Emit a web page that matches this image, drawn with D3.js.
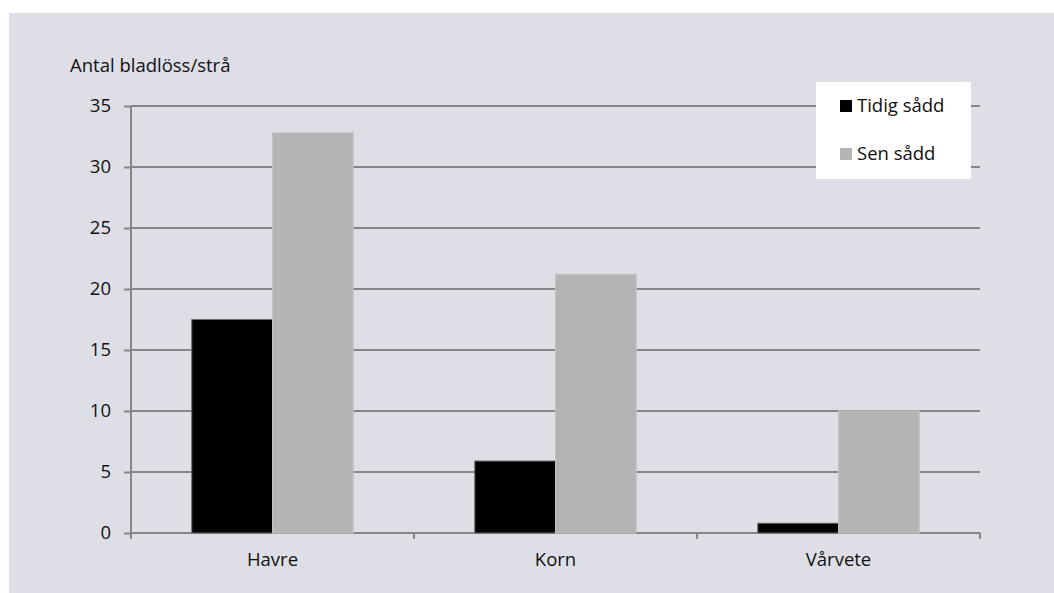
<!DOCTYPE html>
<html lang="sv">
<head>
<meta charset="UTF-8">
<title>Antal bladlöss/strå</title>
<style>
  body { margin: 0; background: #fff; }
  text { font-family: "Open Sans", "Noto Sans", sans-serif; fill: #111; }
</style>
</head>
<body>
<script src="https://d3js.org/d3.v7.min.js"></script>
<div id="chart"></div>
<script>
// data
var categories = ["Havre", "Korn", "Vårvete"];
var seriesNames = ["Tidig sådd", "Sen sådd"];
var tidigSadd = [17.5, 5.9, 0.8];
var senSadd = [32.8, 21.2, 10.0];
var yTicks = [0, 5, 10, 15, 20, 25, 30, 35];
var yTitle = "Antal bladlöss/strå";

var seriesColors = ["#000000", "#b3b4b3"];
var seriesStrokes = ["#6a6a6a", "#c2c3c2"];

var W = 1054, H = 593;
var margin = {top: 106, right: 74, bottom: 60, left: 131};
var fontSize = "18.5px";

var svg = d3.select("#chart").append("svg")
  .attr("width", W).attr("height", H);

// background panel
svg.append("rect")
  .attr("x", 9).attr("y", 13)
  .attr("width", W - 9).attr("height", H - 13)
  .attr("fill", "#dedee6");

var g = svg.append("g")
  .attr("transform", "translate(" + margin.left + "," + margin.top + ")");

var width = W - margin.left - margin.right,   // 849
    height = 533 - margin.top;                 // 427

var x = d3.scaleBand().domain(categories).range([0, width]).paddingInner(0).paddingOuter(0);
var x1 = d3.scaleBand().domain(seriesNames).range([0, x.bandwidth()]).paddingOuter(0.753).paddingInner(0);
var y = d3.scaleLinear().domain([0, 35]).range([height, 0]);

// gridlines
g.append("g")
  .selectAll("line")
  .data(yTicks)
  .join("line")
  .attr("x1", 0).attr("x2", width)
  .attr("y1", function(d) { return y(d); })
  .attr("y2", function(d) { return y(d); })
  .attr("stroke", "#868686")
  .attr("stroke-width", 2);

// y axis
var yAxis = g.append("g")
  .call(d3.axisLeft(y).tickValues(yTicks).tickSize(7).tickPadding(13));
yAxis.select(".domain").remove();
yAxis.selectAll(".tick line").attr("stroke", "#868686").attr("stroke-width", 2);
yAxis.selectAll(".tick text")
  .style("font-size", fontSize)
  .attr("fill", "#111");

// y axis vertical line
g.append("line")
  .attr("x1", 0).attr("x2", 0)
  .attr("y1", 0).attr("y2", height + 6)
  .attr("stroke", "#868686").attr("stroke-width", 2);

// category boundary ticks
var bounds = d3.range(categories.length + 1).map(function(i) { return i * x.step(); });
g.append("g")
  .selectAll("line")
  .data(bounds.slice(1))
  .join("line")
  .attr("x1", function(d) { return d; })
  .attr("x2", function(d) { return d; })
  .attr("y1", height).attr("y2", height + 6)
  .attr("stroke", "#868686").attr("stroke-width", 2);

// bars
var rows = categories.map(function(c, i) {
  return {cat: c, vals: [tidigSadd[i], senSadd[i]]};
});
var groups = g.append("g").selectAll("g")
  .data(rows)
  .join("g")
  .attr("transform", function(d) { return "translate(" + x(d.cat) + ",0)"; });

groups.selectAll("rect")
  .data(function(d) { return d.vals.map(function(v, j) { return {s: seriesNames[j], v: v, j: j}; }); })
  .join("rect")
  .attr("x", function(d) { return x1(d.s); })
  .attr("y", function(d) { return y(d.v); })
  .attr("width", x1.bandwidth())
  .attr("height", function(d) { return height - y(d.v); })
  .attr("fill", function(d) { return seriesColors[d.j]; })
  .attr("stroke", function(d) { return seriesStrokes[d.j]; })
  .attr("stroke-width", 1);

// x axis labels
var xAxis = g.append("g")
  .attr("transform", "translate(0," + height + ")")
  .call(d3.axisBottom(x).tickSize(0).tickPadding(20));
xAxis.select(".domain").remove();
xAxis.selectAll(".tick text")
  .style("font-size", fontSize)
  .attr("fill", "#111");

// y title
svg.append("text")
  .attr("x", 70).attr("y", 72)
  .style("font-size", fontSize)
  .text(yTitle);

// legend
var legend = svg.append("g").attr("transform", "translate(816,82)");
legend.append("rect")
  .attr("width", 155).attr("height", 97)
  .attr("fill", "#ffffff");
var li = legend.selectAll("g.item")
  .data(seriesNames)
  .join("g")
  .attr("class", "item")
  .attr("transform", function(d, i) { return "translate(24," + (18 + i * 48) + ")"; });
li.append("rect")
  .attr("width", 12).attr("height", 12)
  .attr("fill", function(d, i) { return seriesColors[i]; });
li.append("text")
  .attr("x", 17).attr("y", 12)
  .style("font-size", fontSize)
  .text(function(d) { return d; });
</script>
</body>
</html>
